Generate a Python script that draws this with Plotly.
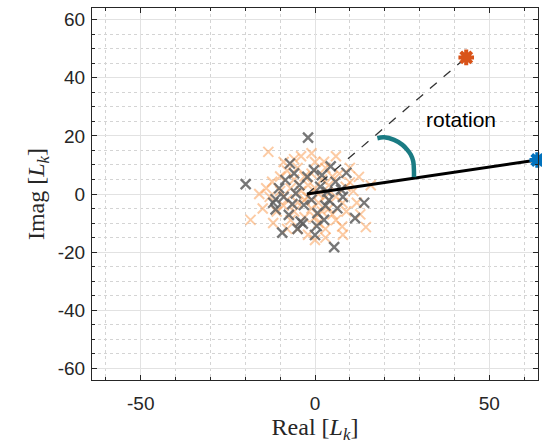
import plotly.graph_objects as go

# --- data ---
gray_x = [-2.0, -19.9, -7.2, -6.0, -0.3, 5.9, 9.0, 14.1, 11.5, -9.4, 0.0, 5.5, -4.1, -3.5,
          -11.3, -11.3, -10.3, -3.2, 0.7, 4.0, 6.4, -5.5, -7.5, -2.2, 3.5, 2.6, -8.5, -4.5,
          1.5, -1.0, 7.5, -6.5, -9.0, 2.0, 4.5, -12.0, 0.5, -5.0, 8.0, 3.0]
gray_y = [19.4, 3.4, 10.5, 7.1, 8.2, 4.2, 7.3, -3.0, -8.3, -13.3, -14.1, -18.3, -9.5, -10.2,
          -1.8, -5.3, 2.0, -3.8, -6.6, -2.1, -4.9, 0.2, -7.2, 5.9, 0.8, -8.9, 4.8, 3.0,
          2.5, -2.0, 1.5, -3.5, -1.0, 6.5, 9.5, -3.0, -11.0, -12.0, -1.0, -4.0]

orange_x = [-13.4, -18.5, 14.6, 7.8, 12.6, 2.6, 3.0, -12.3, 0.0, 8.8, 7.9, -8, -6, -10, -9,
            -7, -5, -2, 1, 3, 5, 6, 4, 2, 0, -2, -4, -3, -1, 1, 3, -6, -8, -11, -13, -14,
            -10, -5, -1, 5, 10, 11, 9, 6, 2, -3, -7, 0, -4, 6, -15, -12, -9, 13, 16, 10, 7,
            -2, 1, -5, -3, 4, 0, -8, 3, 8, -1, -16, 12, -6]
orange_y = [14.5, -8.9, -11.4, -11.2, 5.9, 11.1, 9.0, 4.2, -15.8, 2.5, -3.1, 8, 5, 1, -4,
            -9, -12, -14, -10, -12, -7, -1, 3, 5, 2, 3, 1, -2, -5, -3, -1, -6, -2, -6, -1, 2,
            6, 9, 7, 6, 9, 1, -6, -9, -6, -8, 2, 11, 13, 13, -5, -10, 11, -7, 3, 4, 7,
            -1, 0, -3, 6, -5, -8, -12, -15, -14, 14, 0, -3, 12]

origin = [-2.3, 0.0]
target_orange = [43.4, 47.0]
target_blue = [63.8, 11.7]

arc_x = [17.9, 19.8, 22.7, 25.1, 26.5, 27.5, 28.2, 28.4, 28.4]
arc_y = [19.2, 19.5, 18.6, 16.9, 15.2, 13.5, 11.2, 7.8, 5.8]

label_text = "rotation"
label_pos = [42.0, 25.7]

x_ticks = [-50, 0, 50]
y_ticks = [-60, -40, -20, 0, 20, 40, 60]

ORANGE_LIGHT = "rgba(250,160,90,0.55)"
GRAY = "rgba(95,95,95,0.85)"

fig = go.Figure()

fig.add_trace(go.Scatter(x=orange_x, y=orange_y, mode="markers",
                         marker=dict(symbol="x-thin-open", size=10, color=ORANGE_LIGHT,
                                     line=dict(width=2, color=ORANGE_LIGHT)),
                         hoverinfo="skip"))
fig.add_trace(go.Scatter(x=gray_x, y=gray_y, mode="markers",
                         marker=dict(symbol="x-thin-open", size=10, color=GRAY,
                                     line=dict(width=2.3, color=GRAY)),
                         hoverinfo="skip"))

fig.add_trace(go.Scatter(x=[origin[0], target_orange[0]], y=[origin[1], target_orange[1]],
                         mode="lines", line=dict(color="#333333", width=1.3, dash="dash")))
fig.add_trace(go.Scatter(x=[origin[0], target_blue[0]], y=[origin[1], target_blue[1]],
                         mode="lines", line=dict(color="black", width=3)))
fig.add_trace(go.Scatter(x=arc_x, y=arc_y, mode="lines",
                         line=dict(color="#1a7b83", width=4.5, shape="spline")))

fig.add_trace(go.Scatter(x=[target_orange[0]], y=[target_orange[1]], mode="markers",
                         marker=dict(symbol="asterisk-open", size=13, color="#D95319",
                                     line=dict(width=4, color="#D95319"))))
fig.add_trace(go.Scatter(x=[target_blue[0]], y=[target_blue[1]], mode="markers",
                         marker=dict(symbol="asterisk-open", size=13, color="#0072BD",
                                     line=dict(width=4, color="#0072BD")),
                         cliponaxis=False))

fig.add_annotation(x=label_pos[0], y=label_pos[1], text=label_text, showarrow=False,
                   font=dict(family="Liberation Sans, Arial", size=21, color="black"))

tickfont = dict(family="Liberation Sans, Arial", size=19, color="#262626")
titlefont = dict(family="Liberation Serif, Times New Roman, serif", size=24, color="#262626")

fig.update_xaxes(range=[-64, 64], tickvals=x_ticks, ticktext=[str(v) for v in x_ticks],
                 showline=True, linecolor="#262626", linewidth=1, mirror="ticks",
                 ticks="inside", ticklen=5, tickcolor="#262626", ticklabelstandoff=6,
                 showgrid=True, gridcolor="#e2e2e2", gridwidth=1, zeroline=False,
                 minor=dict(dtick=10, tick0=0, ticks="inside", ticklen=3, tickcolor="#262626",
                            showgrid=True, gridcolor="#d4d4d4", griddash="dot"),
                 tickfont=tickfont,
                 title=dict(text="Real [<i>L</i><sub><i>k</i></sub>]", font=titlefont, standoff=4))
fig.update_yaxes(range=[-64, 64], tickvals=y_ticks, ticktext=[str(v) for v in y_ticks],
                 showline=True, linecolor="#262626", linewidth=1, mirror="ticks",
                 ticks="inside", ticklen=5, tickcolor="#262626", ticklabelstandoff=2,
                 showgrid=True, gridcolor="#e2e2e2", gridwidth=1, zeroline=False,
                 minor=dict(dtick=5, tick0=0, ticks="inside", ticklen=3, tickcolor="#262626",
                            showgrid=True, gridcolor="#d4d4d4", griddash="dot"),
                 tickfont=tickfont,
                 title=dict(text="Imag [<i>L</i><sub><i>k</i></sub>]", font=titlefont, standoff=6))

fig.update_layout(width=542, height=448, showlegend=False, template="none",
                  margin=dict(l=92, r=4, t=8, b=68),
                  paper_bgcolor="white", plot_bgcolor="white")

fig.write_html("out.html")
